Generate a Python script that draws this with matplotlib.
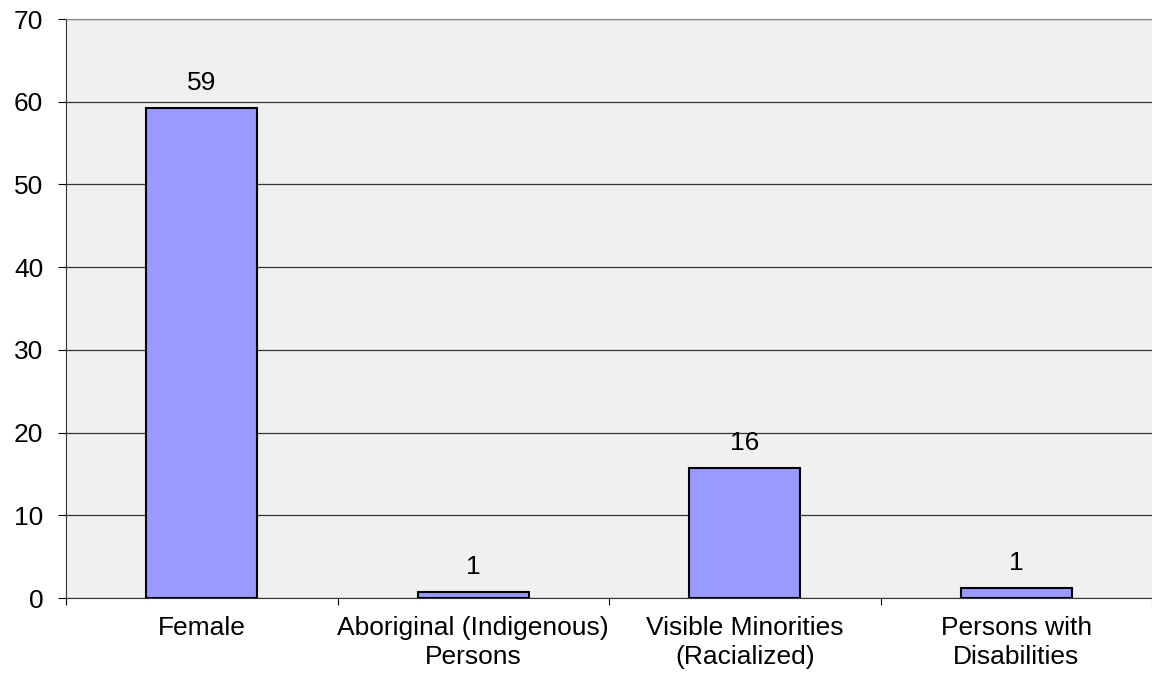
import matplotlib.pyplot as plt
import numpy as np

categories = ["Female", "Aboriginal (Indigenous)\nPersons", "Visible Minorities\n(Racialized)", "Persons with\nDisabilities"]
values = [59.2, 0.7, 15.7, 1.2]
labels = ["59", "1", "16", "1"]

plt.rcParams['font.family'] = ['Liberation Sans', 'DejaVu Sans']
fs = 19

fig = plt.figure(figsize=(11.52, 6.77), dpi=100)
ax = fig.add_axes([66 / 1152, 1 - 598 / 677, (1152 - 66) / 1152, (598 - 19) / 677])
ax.set_facecolor("#F0F0F0")

x = np.arange(len(categories))
bars = ax.bar(x, values, width=0.41, color="#9999FF", edgecolor="black", linewidth=1.5, zorder=3)
for b, lab in zip(bars, labels):
    ax.annotate(lab, (b.get_x() + b.get_width() / 2, b.get_height()),
                xytext=(0, 13), textcoords="offset points",
                ha="center", va="baseline", fontsize=fs)

ax.set_xlim(-0.5, len(categories) - 0.5)
ax.set_ylim(0, 70)
ax.set_yticks(range(0, 71, 10))
ax.tick_params(axis="y", labelsize=fs, length=5.8, direction="out", pad=10.5)
ax.grid(axis="y", color="#333333", linewidth=0.9, zorder=1)

ax.set_xticks(np.arange(len(categories) + 1) - 0.5, minor=False)
ax.set_xticklabels([])
ax.set_xticks(x, minor=True)
ax.set_xticklabels(categories, minor=True, fontsize=fs, linespacing=1.27)
ax.tick_params(axis="x", which="major", length=5, direction="out")
ax.tick_params(axis="x", which="minor", length=0, pad=13)

ax.spines["right"].set_visible(False)
ax.spines["top"].set_color("#888888")
ax.spines["left"].set_color("#333333")
ax.spines["bottom"].set_color("#333333")

fig.savefig("out.png", dpi=100)
